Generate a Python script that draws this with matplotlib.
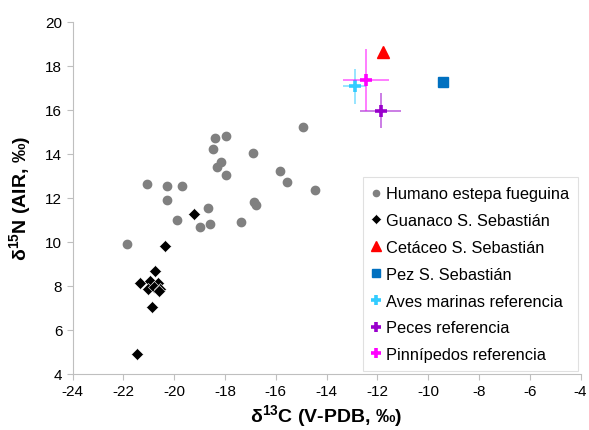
import numpy as np
import matplotlib.pyplot as plt

plt.rcParams['font.family'] = ['Liberation Sans', 'DejaVu Sans']
plt.rcParams['mathtext.fontset'] = 'custom'
plt.rcParams['mathtext.rm'] = 'Liberation Sans'
plt.rcParams['mathtext.bf'] = 'Liberation Sans:bold'
plt.rcParams['axes.unicode_minus'] = False

# Humano estepa fueguina
hum_x = [-14.91, -18.39, -17.98, -18.48, -16.89, -18.17, -18.30, -17.98, -15.83, -15.57,
         -14.44, -21.08, -20.28, -19.69, -20.28, -16.85, -16.79, -18.69, -19.89, -18.98,
         -18.59, -17.38, -21.87]
hum_y = [15.20, 14.71, 14.82, 14.21, 14.02, 13.64, 13.41, 13.05, 13.21, 12.73,
         12.36, 12.61, 12.52, 12.52, 11.91, 11.82, 11.67, 11.52, 10.99, 10.68,
         10.80, 10.91, 9.91]

# Guanaco S. Sebastián
gua_x = [-19.23, -20.35, -20.74, -21.34, -20.95, -20.65, -21.02, -20.80, -20.55, -20.60, -20.88, -21.47]
gua_y = [11.26, 9.82, 8.68, 8.13, 8.23, 8.15, 7.88, 7.95, 7.85, 7.75, 7.05, 4.90]

cet_x, cet_y = [-11.76], [18.64]
pez_x, pez_y = [-9.42], [17.27]

# referencias (media, desvío)
aves_x, aves_y, aves_ex, aves_ey = [-12.9], [17.06], [0.47], [0.8]
peces_x, peces_y, peces_ex, peces_ey = [-11.87], [15.95], [0.8], [0.8]
pinn_x, pinn_y, pinn_ex, pinn_ey = [-12.45], [17.36], [0.9], [1.4]

fig = plt.figure(figsize=(5.89, 4.31), dpi=100)
ax = fig.add_axes([0.1234, 0.130, 0.8622, 0.8173])

ax.plot(hum_x, hum_y, 'o', color='#808080', ms=6, ls='none', label='Humano estepa fueguina')
ax.plot(gua_x, gua_y, 'D', color='black', ms=6.5, mec='white', mew=0.4, ls='none', label='Guanaco S. Sebastián')
ax.plot(cet_x, cet_y, '^', color='#FF0000', ms=9, ls='none', label='Cetáceo S. Sebastián')
ax.plot(pez_x, pez_y, 's', color='#0070C0', ms=7.5, ls='none', label='Pez S. Sebastián')

refs = [
    (aves_x, aves_y, aves_ex, aves_ey, '#33CCFF', 'Aves marinas referencia'),
    (peces_x, peces_y, peces_ex, peces_ey, '#9900CC', 'Peces referencia'),
    (pinn_x, pinn_y, pinn_ex, pinn_ey, '#FF00FF', 'Pinnípedos referencia'),
]
for x, y, ex, ey, c, lab in refs:
    ax.errorbar(x, y, xerr=ex, yerr=ey, fmt='none', ecolor=c, alpha=0.55, elinewidth=1.3, capsize=0)
    ax.plot(x, y, '+', color=c, ms=9, mew=2.6, ls='none', label=lab)

ax.set_xlim(-24, -4)
ax.set_ylim(4, 20)
ax.set_xticks(np.arange(-24, -3, 2))
ax.set_yticks(np.arange(4, 21, 2))
ax.tick_params(labelsize=11, color='#BFBFBF', length=4, width=0.8)
for s in ['top', 'right']:
    ax.spines[s].set_visible(False)
for s in ['left', 'bottom']:
    ax.spines[s].set_color('#BFBFBF')

ax.set_xlabel(r'δ$^{\mathbf{13}}$C (V-PDB, ‰)', fontsize=14, fontweight='bold', labelpad=3)
ax.set_ylabel(r'δ$^{\mathbf{15}}$N (AIR, ‰)', fontsize=14, fontweight='bold', labelpad=8)

leg = ax.legend(loc='lower right', bbox_to_anchor=(0.995, 0.008), fontsize=11.8, frameon=True,
                fancybox=False, edgecolor='#D9D9D9', handlelength=0.5, handletextpad=0.35,
                labelspacing=0.72, borderpad=0.55, borderaxespad=0, markerscale=0.75)
leg.get_frame().set_linewidth(0.8)

fig.savefig('out.png', dpi=100)
